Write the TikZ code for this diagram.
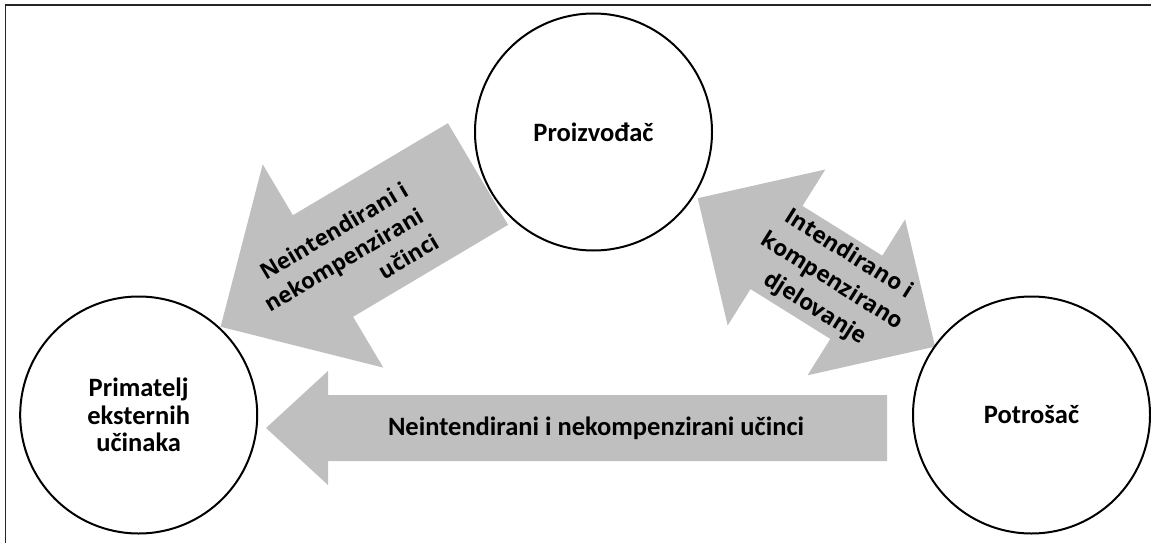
\documentclass[tikz,border=0pt]{standalone}
\usepackage{fontspec}
\setmainfont{Carlito}
\newfontfamily\osans{Open Sans}
\definecolor{arrowgray}{RGB}{191,191,191}
\tikzset{
  circ/.style={circle, draw=black, line width=2pt, fill=white, minimum size=237pt, inner sep=0pt,
    align=center, font=\bfseries\fontsize{26.5}{27.5}\selectfont},
  blockarrow/.style={fill=arrowgray, draw=none},
  rtext/.style={inner sep=0pt, font=\osans\bfseries\fontsize{22.2}{30}\selectfont},
  rtextb/.style={inner sep=0pt, font=\osans\bfseries\fontsize{22.6}{32}\selectfont},
  htext/.style={inner sep=0pt, font=\bfseries\fontsize{26.5}{27.5}\selectfont},
  frameline/.style={draw=black!85, line width=1.3pt}
}
\begin{document}
\begin{tikzpicture}[x=1pt,y=-1pt]
\useasboundingbox (0,0) rectangle (1151,543);
% frame
\coordinate (fbl) at (5.5,543);
\coordinate (ftl) at (5.5,5);
\coordinate (ftr) at (1151,5);
\draw[frameline] (fbl) -- (ftl) -- (ftr);
% left diagonal arrow
\coordinate (a1) at (447.9,123.2);
\coordinate (a2) at (292.9,215.2);
\coordinate (a3) at (262.7,164.4);
\coordinate (a4) at (220.6,326.8);
\coordinate (a5) at (383.3,367.6);
\coordinate (a6) at (353.1,316.8);
\coordinate (a7) at (508.1,224.8);
\fill[blockarrow] (a1) -- (a2) -- (a3) -- (a4) -- (a5) -- (a6) -- (a7) -- cycle;
% double arrow
\coordinate (q1) at (697.7,198.2);
\coordinate (q2) at (825.3,169.5);
\coordinate (q3) at (802.5,205.9);
\coordinate (q4) at (882.3,255.7);
\coordinate (q5) at (905.1,219.3);
\coordinate (q6) at (935.1,346.6);
\coordinate (q7) at (807.5,375.3);
\coordinate (q8) at (830.3,338.9);
\coordinate (q9) at (750.5,289.1);
\coordinate (q10) at (727.7,325.5);
\fill[blockarrow] (q1) -- (q2) -- (q3) -- (q4) -- (q5) -- (q6) -- (q7) -- (q8) -- (q9) -- (q10) -- cycle;
% horizontal arrow
\coordinate (h1) at (887,395);
\coordinate (h2) at (328,395);
\coordinate (h3) at (328,371);
\coordinate (h4) at (266,428);
\coordinate (h5) at (328,485);
\coordinate (h6) at (328,461);
\coordinate (h7) at (887,461);
\fill[blockarrow] (h1) -- (h2) -- (h3) -- (h4) -- (h5) -- (h6) -- (h7) -- cycle;
% circles
\node[circ] (prod) at (593.5,132) {Proizvođač};
\node[circ] (prim) at (138.7,415) {Primatelj\\eksternih\\učinaka};
\node[circ] (potr) at (1031.5,415) {Potrošač};
% arrow texts
\node[rtext, rotate=30.7, anchor=east, align=right] (t1) at (421.2,213.6) {Neintendirani i\\nekompenzirani\\učinci};
\node[rtextb, rotate=-32, align=center] (t2) at (831.7,282) {Intendirano i\\kompenzirano\\djelovanje};
\node[htext] (t3) at (596,428) {Neintendirani i nekompenzirani učinci};
\end{tikzpicture}
\end{document}
